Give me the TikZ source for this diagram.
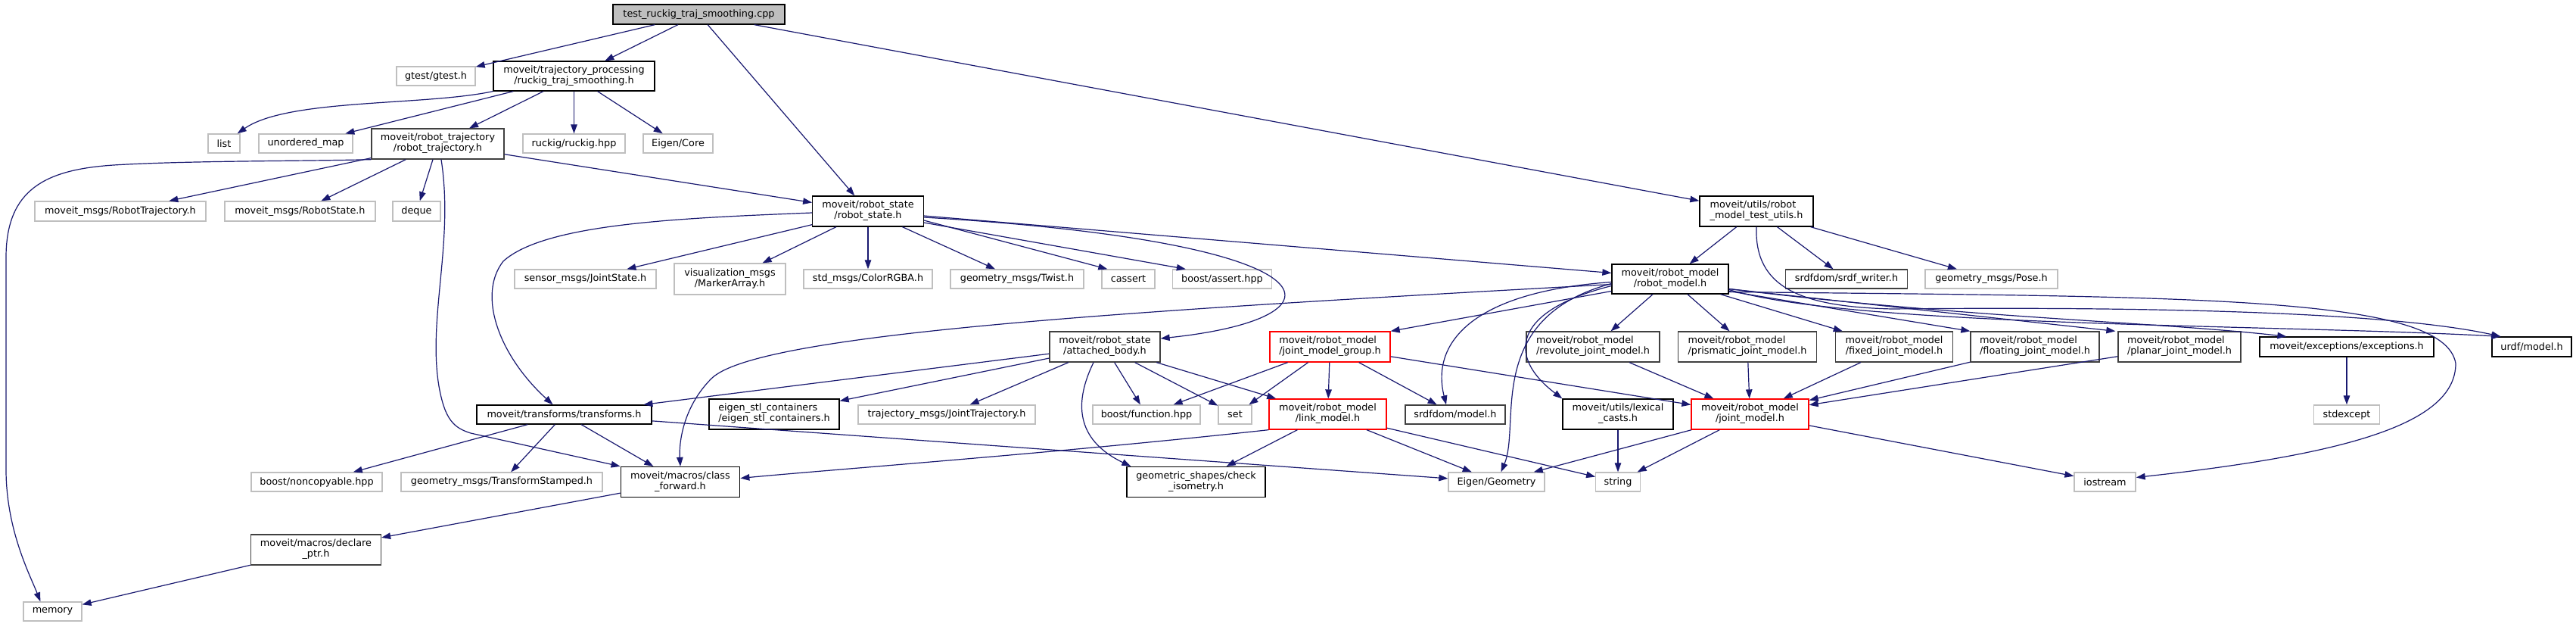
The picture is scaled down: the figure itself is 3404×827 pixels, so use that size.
\documentclass[tikz,border=0pt]{standalone}
\usepackage{fontspec}
\setmainfont{DejaVu Sans}
\usetikzlibrary{arrows.meta,calc}
\definecolor{edgec}{HTML}{191970}
\definecolor{grayfill}{HTML}{BFBFBF}
\definecolor{grayb}{HTML}{BFBFBF}
\definecolor{darkb}{HTML}{404040}
\newcommand{\twol}[2]{\begin{tabular}{@{}l@{}}#1\\\multicolumn{1}{@{}c@{}}{#2}\end{tabular}}
\tikzset{
  base/.style={draw, line width=1.3pt, inner sep=0pt, fill=white, font=\fontsize{12.8}{14}\selectfont},
  nb/.style={base, draw=black},
  nd/.style={base, draw=darkb},
  ng/.style={base, draw=grayb},
  nr/.style={base, draw=red},
  nroot/.style={base, draw=black, fill=grayfill},
  sz/.style 2 args={minimum width=#1pt, minimum height=#2pt},
  edg/.style={draw=edgec, line width=1.2pt, -{Triangle[length=12pt,width=8.5pt]}},
}
\begin{document}
\begin{tikzpicture}[x=1pt,y=-1pt]
\fill[white] (0,0) rectangle (3404,827);
\useasboundingbox (0,0) rectangle (3404,827);
% nodes
\node[nroot, sz={227}{26}] (root) at (923.5,19) {test\_ruckig\_traj\_smoothing.cpp};
\node[ng, sz={104}{25}] (gtest) at (576,100.5) {gtest/gtest.h};
\node[nb, sz={213}{39}] (rts) at (758.5,100.5) {\twol{moveit/trajectory\_processing}{/ruckig\_traj\_smoothing.h}};
\node[ng, sz={42}{25}] (nlist) at (296,189.5) {list};
\node[ng, sz={124}{25}] (umap) at (404,189.5) {unordered\_map};
\node[nd, sz={175}{40}] (rt) at (578.5,190) {\twol{moveit/robot\_trajectory}{/robot\_trajectory.h}};
\node[ng, sz={135}{25}] (ruckighpp) at (758.5,189.5) {ruckig/ruckig.hpp};
\node[ng, sz={92}{25}] (eigencore) at (896,189.5) {Eigen/Core};
\node[ng, sz={226}{26}] (msgRT) at (159,279) {moveit\_msgs/RobotTrajectory.h};
\node[ng, sz={199}{26}] (msgRS) at (396.5,279) {moveit\_msgs/RobotState.h};
\node[ng, sz={63}{26}] (deque) at (550.5,279) {deque};
\node[nb, sz={146.5}{40}] (rs) at (1147,279) {\twol{moveit/robot\_state}{/robot\_state.h}};
\node[nb, sz={150}{40}] (mtu) at (2321,279) {\twol{moveit/utils/robot}{\_model\_test\_utils.h}};
\node[ng, sz={187}{25}] (jointstate) at (773.5,368.5) {sensor\_msgs/JointState.h};
\node[ng, sz={147}{41}] (marker) at (964.5,368.5) {\twol{visualization\_msgs}{/MarkerArray.h}};
\node[ng, sz={170}{25}] (colorrgba) at (1147,368.5) {std\_msgs/ColorRGBA.h};
\node[ng, sz={176}{25}] (twist) at (1344,368.5) {geometry\_msgs/Twist.h};
\node[ng, sz={70}{25}] (cassert) at (1491,368.5) {cassert};
\node[ng, sz={131}{25}] (bassert) at (1615,368.5) {boost/assert.hpp};
\node[nb, sz={154}{39}] (rm) at (2207,368.5) {\twol{moveit/robot\_model}{/robot\_model.h}};
\node[nd, sz={160.5}{25}] (srdfw) at (2440,368.5) {srdfdom/srdf\_writer.h};
\node[ng, sz={175}{25}] (pose) at (2631.5,368.5) {geometry\_msgs/Pose.h};
\node[nd, sz={146}{40}] (ab) at (1460,458) {\twol{moveit/robot\_state}{/attached\_body.h}};
\node[nr, sz={159}{40}] (jmg) at (1757.5,458) {\twol{moveit/robot\_model}{/joint\_model\_group.h}};
\node[nd, sz={176}{40}] (rev) at (2105,458) {\twol{moveit/robot\_model}{/revolute\_joint\_model.h}};
\node[nd, sz={182.5}{40}] (pris) at (2309,458) {\twol{moveit/robot\_model}{/prismatic\_joint\_model.h}};
\node[nd, sz={154.5}{40}] (fixed) at (2503,458) {\twol{moveit/robot\_model}{/fixed\_joint\_model.h}};
\node[nd, sz={170}{40}] (floating) at (2689,458) {\twol{moveit/robot\_model}{/floating\_joint\_model.h}};
\node[nd, sz={162}{40}] (planar) at (2880,458) {\twol{moveit/robot\_model}{/planar\_joint\_model.h}};
\node[nb, sz={230}{26}] (exc) at (3101,458) {moveit/exceptions/exceptions.h};
\node[nb, sz={105}{26}] (urdf) at (3345.5,458) {urdf/model.h};
\node[nb, sz={231}{25}] (transforms) at (745.5,547.5) {moveit/transforms/transforms.h};
\node[nb, sz={172}{40}] (eigenstl) at (1023,547) {\twol{eigen\_stl\_containers}{/eigen\_stl\_containers.h}};
\node[ng, sz={234}{25}] (jtraj) at (1251,547.5) {trajectory\_msgs/JointTrajectory.h};
\node[ng, sz={142}{25}] (bfunc) at (1515,547.5) {boost/function.hpp};
\node[ng, sz={44}{25}] (nset) at (1632,547.5) {set};
\node[nr, sz={155}{40}] (link) at (1754.5,547) {\twol{moveit/robot\_model}{/link\_model.h}};
\node[nd, sz={132}{25}] (srdfmodel) at (1923,547.5) {srdfdom/model.h};
\node[nb, sz={146}{40}] (lexical) at (2138,547) {\twol{moveit/utils/lexical}{\_casts.h}};
\node[nr, sz={155}{40}] (jm) at (2312.5,547) {\twol{moveit/robot\_model}{/joint\_model.h}};
\node[ng, sz={87}{25}] (stdexcept) at (3101,547.5) {stdexcept};
\node[ng, sz={173}{25}] (noncopy) at (418.5,636.5) {boost/noncopyable.hpp};
\node[ng, sz={266}{25}] (tfstamped) at (663,636.5) {geometry\_msgs/TransformStamped.h};
\node[nb, sz={157.5}{40}] (cf) at (899,636.5) {\twol{moveit/macros/class}{\_forward.h}};
\node[nb, sz={183}{40}] (iso) at (1580.5,636.5) {\twol{geometric\_shapes/check}{\_isometry.h}};
\node[ng, sz={127}{25}] (eigengeo) at (1977.5,636.5) {Eigen/Geometry};
\node[ng, sz={58.5}{25}] (nstring) at (2138,636.5) {string};
\node[ng, sz={81}{25}] (iostream) at (2781.5,636.5) {iostream};
\node[nd, sz={172}{40}] (declare) at (417.5,726) {\twol{moveit/macros/declare}{\_ptr.h}};
\node[ng, sz={77}{25}] (memory) at (69.5,807.5) {memory};
% edges from root
\draw[edg] (root) -- (gtest);
\draw[edg] (root) -- (rts);
\draw[edg] (root) -- (rs);
\draw[edg] (root) -- (mtu);
% rts
\draw[edg] (rts.south west) .. controls (560,140) and (380,130) .. ($(nlist.north east)+(-4,0)$);
\draw[edg] (rts) -- (umap);
\draw[edg] (rts) -- (rt);
\draw[edg] (rts) -- (ruckighpp);
\draw[edg] (rts) -- (eigencore);
% rt
\draw[edg] (rt.south west) .. controls (400,213) and (250,212) .. (150,218) .. controls (60,224) and (8,250) .. (8,340) -- (8,620) .. controls (8,700) and (40,760) .. ($(memory.north west)+(23,0)$);
\draw[edg] (rt) -- (msgRT);
\draw[edg] (rt) -- (msgRS);
\draw[edg] (rt) -- (deque);
\draw[edg] ($(rt.south)+(4.5,0)$) .. controls (600,320) and (565,420) .. (580,510) .. controls (588,555) and (600,565) .. (622,572) -- (cf.north west);
\draw[edg] (rt) -- (rs);
% rs
\draw[edg] (rs) -- (jointstate);
\draw[edg] (rs) -- (marker);
\draw[edg] (rs) -- (colorrgba);
\draw[edg] (rs) -- (twist);
\draw[edg] ($(rs.east)+(0,12)$) -- ($(cassert.north west)+(8,0)$);
\draw[edg] ($(rs.east)+(0,15)$) -- ($(bassert.north west)+(18,0)$);
\draw[edg] ($(rs.east)+(0,6)$) -- ($(rm.west)+(0,-8)$);
\draw[edg] ($(rs.east)+(0,8)$) .. controls (1780,320) and (1790,420) .. ($(ab.east)+(0,-11)$);
\draw[edg] ($(rs.west)+(0,2)$) .. controls (900,288) and (720,295) .. (665,345) .. controls (630,390) and (660,470) .. ($(transforms.north)+(-15,0)$);
% mtu
\draw[edg] (mtu) -- (rm);
\draw[edg] (mtu) -- (srdfw);
\draw[edg] (mtu) -- (pose);
\draw[edg] (mtu.south) .. controls (2318,380) and (2380,405) .. (2500,408) .. controls (2800,405) and (3150,410) .. ($(urdf.north west)+(12,0)$);
% rm right
\draw[edg] ($(rm.east)+(0,14)$) .. controls (2450,432) and (3000,428) .. ($(urdf.north west)+(12,0)$);
\draw[edg] ($(rm.east)+(0,17)$) .. controls (2900,392) and (3230,390) .. (3245,480) .. controls (3245,560) and (3100,600) .. ($(iostream.east)+(0,-6)$);
\draw[edg] ($(rm.east)+(0,16)$) -- (floating.north west);
\draw[edg] ($(rm.east)+(0,13)$) -- ($(planar.north west)+(-3,0)$);
\draw[edg] ($(rm.east)+(0,13)$) .. controls (2600,420) and (2850,425) .. ($(exc.north west)+(36,0)$);
\draw[edg] (rm) -- (fixed);
\draw[edg] (rm) -- (rev);
\draw[edg] (rm) -- (pris);
% rm left
\draw[edg] ($(rm.west)+(0,16)$) -- (jmg.north east);
\draw[edg] ($(rm.west)+(0,7)$) .. controls (1500,410) and (1000,440) .. (940,500) .. controls (905,535) and (897,580) .. (cf.north);
\draw[edg] ($(rm.west)+(0,4)$) .. controls (1950,385) and (1890,450) .. ($(srdfmodel.north)+(-12,0)$);
\draw[edg] ($(rm.west)+(0,6)$) .. controls (1960,420) and (2010,560) .. ($(eigengeo.north)+(6,0)$);
\draw[edg] ($(rm.west)+(0,9)$) .. controls (2000,410) and (1990,470) .. (lexical.north west);
% jmg
\draw[edg] (jmg) -- (link);
\draw[edg] (jmg) -- (srdfmodel);
\draw[edg] (jmg) -- (jm);
\draw[edg] (jmg) -- (bfunc);
\draw[edg] (jmg) -- (nset);
% ab
\draw[edg] (ab) -- (transforms);
\draw[edg] (ab) -- (eigenstl);
\draw[edg] (ab) -- (jtraj);
\draw[edg] (ab) -- (bfunc);
\draw[edg] (ab) -- (nset);
\draw[edg] (ab) -- (link);
\draw[edg] ($(ab.south)+(-15,0)$) .. controls (1420,530) and (1420,580) .. ($(iso.north west)+(6,0)$);
% link
\draw[edg] (link.south west) .. controls (1400,598) and (1100,620) .. ($(cf.east)+(0,-5)$);
\draw[edg] (link) -- (iso);
\draw[edg] (link) -- (eigengeo);
\draw[edg] (link) -- (nstring);
% jm
\draw[edg] (jm) -- (eigengeo);
\draw[edg] (jm) -- (nstring);
\draw[edg] (jm) -- (iostream);
\draw[edg] (lexical) -- (nstring);
% joint models
\draw[edg] (rev) -- (jm);
\draw[edg] (pris) -- (jm);
\draw[edg] (fixed) -- (jm);
\draw[edg] (floating) -- (jm);
\draw[edg] (planar) -- (jm);
\draw[edg] (exc) -- (stdexcept);
% transforms
\draw[edg] (transforms) -- (noncopy);
\draw[edg] (transforms) -- (tfstamped);
\draw[edg] (transforms) -- (cf);
\draw[edg] (transforms) -- (eigengeo);
% macros
\draw[edg] (cf) -- (declare);
\draw[edg] (declare) -- (memory);
\end{tikzpicture}
\end{document}
